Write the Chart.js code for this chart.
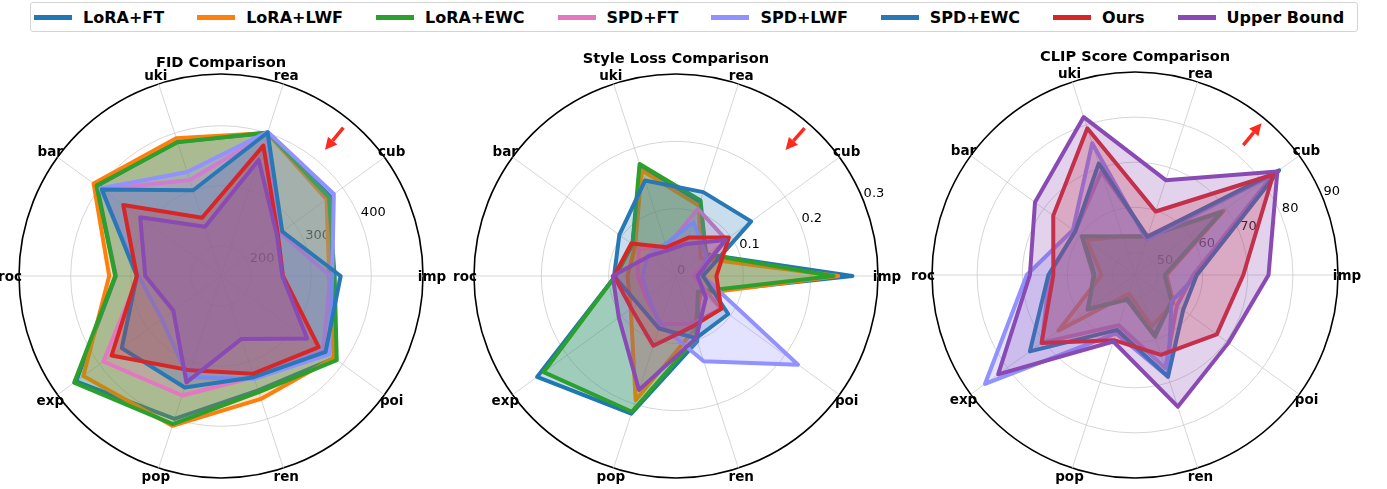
<!DOCTYPE html>
<html>
<head>
<meta charset="utf-8">
<script src="https://cdn.jsdelivr.net/npm/chart.js"></script>
<title>FID / Style Loss / CLIP radar</title>
<style>
  * { font-family: "DejaVu Sans", sans-serif; box-sizing: border-box; }
  body { margin: 0; width: 1387px; height: 489px; overflow: hidden; background: #fff; position: relative; }
  canvas { position: absolute; top: 0; }
  #legend {
    position: absolute; left: 30px; top: 2px; width: 1328px; height: 30px;
    border: 1px solid #d4d4d4; border-radius: 3px; background: #fff;
    display: flex; align-items: center; padding-left: 3px; gap: 33px; z-index: 2;
  }
  .item { display: flex; align-items: center; white-space: nowrap; }
  .handle { width: 38px; height: 5px; margin-right: 11px; }
  .txt { font-weight: bold; font-size: 16px; color: #000; }
</style>
</head>
<body>
<div id="legend"></div>
<canvas id="fid" width="456" height="489" style="left:-7px"></canvas>
<canvas id="style" width="456" height="489" style="left:448px"></canvas>
<canvas id="clip" width="456" height="489" style="left:907px"></canvas>
<script>
  // categories in the order they go round (counter-clockwise from the right)
  const categories = ['imp', 'cub', 'rea', 'uki', 'bar', 'roc', 'exp', 'pop', 'ren', 'poi'];
  const methods = ['LoRA+FT', 'LoRA+LWF', 'LoRA+EWC', 'SPD+FT', 'SPD+LWF', 'SPD+EWC', 'Ours', 'Upper Bound'];
  const colors = ['#1f77b4', '#ff7f0e', '#2ca02c', '#e377c2', '#9191ff', '#2878b5', '#d62728', '#8a4ab3'];

  // one row per method, same order as categories
  const fidScores = [
    [336, 375, 400, 385, 405, 325, 448, 400, 350, 383],
    [330, 367, 400, 391, 412, 336, 433, 412, 365, 382],
    [339, 372, 401, 384, 406, 326, 452, 409, 353, 388],
    [332, 272, 398, 318, 395, 287, 392, 359, 327, 360],
    [335, 382, 402, 332, 398, 287, 272, 327, 330, 372],
    [349, 276, 401, 300, 395, 290, 354, 345, 327, 365],
    [253, 267, 378, 252, 351, 290, 375, 315, 321, 351],
    [252, 265, 353, 236, 316, 276, 248, 336, 260, 327]
  ];
  const styleLoss = [
    [0.262, 0.055, 0.115, 0.168, 0.080, 0.090, 0.255, 0.215, 0.102, 0.042],
    [0.241, 0.045, 0.110, 0.165, 0.075, 0.072, 0.083, 0.194, 0.085, 0.045],
    [0.234, 0.055, 0.118, 0.175, 0.080, 0.090, 0.243, 0.212, 0.097, 0.040],
    [0.026, 0.092, 0.105, 0.045, 0.068, 0.057, 0.055, 0.075, 0.075, 0.083],
    [0.040, 0.055, 0.084, 0.050, 0.052, 0.050, 0.051, 0.076, 0.133, 0.224],
    [0.040, 0.138, 0.131, 0.149, 0.104, 0.092, 0.070, 0.082, 0.097, 0.096],
    [0.060, 0.097, 0.060, 0.045, 0.082, 0.092, 0.082, 0.109, 0.079, 0.083],
    [0.032, 0.091, 0.050, 0.040, 0.050, 0.094, 0.105, 0.178, 0.097, 0.055]
  ];
  const clipScores = [
    [51.6, 68.8, 54.0, 54.0, 59.0, 54.0, 58.0, 50.5, 59.0, 55.0],
    [52.0, 69.3, 54.0, 54.0, 58.2, 52.4, 66.0, 49.3, 57.0, 55.5],
    [51.6, 68.7, 54.0, 54.0, 59.6, 54.2, 57.8, 50.8, 59.4, 55.0],
    [57.9, 82.8, 54.0, 69.1, 61.4, 64.0, 70.5, 56.7, 66.7, 56.5],
    [58.7, 83.0, 53.3, 75.7, 62.0, 69.0, 86.1, 58.6, 68.7, 55.0],
    [58.7, 84.5, 53.9, 71.0, 61.4, 64.2, 73.8, 57.8, 68.7, 58.2],
    [69.0, 82.9, 59.8, 79.2, 67.4, 63.1, 70.6, 60.2, 63.6, 67.4],
    [74.6, 84.0, 67.1, 81.8, 72.4, 68.3, 82.5, 60.5, 75.7, 70.6]
  ];

  const fidTicks = [200, 300, 400];
  const styleTicks = [0, 0.1, 0.2, 0.3];
  const clipTicks = [50, 60, 70, 80, 90];

  // red arrows: [angle in degrees, tail value, head value]
  const fidArrow = [50.5, 470, 422];
  const styleArrow = [49, 0.291, 0.248];
  const clipArrow = [50.2, 82.5, 88.8];

  // legend
  const legend = document.getElementById('legend');
  methods.forEach((m, i) => {
    const it = document.createElement('div');
    it.className = 'item';
    it.innerHTML = '<span class="handle" style="background:' + colors[i] + '"></span><span class="txt">' + m + '</span>';
    legend.appendChild(it);
  });

  // chart.js goes clockwise, the reference goes counter-clockwise
  function cw(a) { return [a[0]].concat(a.slice(1).reverse()); }

  const polarDecor = {
    id: 'polarDecor',
    beforeDatasetsDraw(chart, args, opts) {
      const s = chart.scales.r, ctx = chart.ctx;
      const a = 22.5 * Math.PI / 180;
      ctx.save();
      ctx.font = '13px "DejaVu Sans"';
      ctx.fillStyle = '#000';
      ctx.textAlign = 'left';
      ctx.textBaseline = 'bottom';
      opts.ticks.forEach(v => {
        const d = s.getDistanceFromCenterForValue(v);
        ctx.fillText(String(v), s.xCenter + d * Math.cos(a) + 1, s.yCenter - d * Math.sin(a) + 1);
      });
      ctx.restore();
    },
    afterDraw(chart, args, opts) {
      const s = chart.scales.r, ctx = chart.ctx;
      ctx.save();
      ctx.font = 'bold 13.5px "DejaVu Sans"';
      ctx.fillStyle = '#000';
      ctx.textAlign = 'center';
      ctx.textBaseline = 'middle';
      chart.data.labels.forEach((lab, i) => {
        const p = s.getPointPosition(i, s.drawingArea + 9);
        ctx.fillText(lab, p.x, p.y + 1);
      });

      // arrow
      const arr = opts.arrow;
      const a = arr[0] * Math.PI / 180;
      const pos = v => {
        const d = s.getDistanceFromCenterForValue(v);
        return [s.xCenter + d * Math.cos(a), s.yCenter - d * Math.sin(a)];
      };
      const [x1, y1] = pos(arr[1]);
      const [x2, y2] = pos(arr[2]);
      const ang = Math.atan2(y2 - y1, x2 - x1);
      const hl = 12, hw = 6;
      const bx = x2 - hl * Math.cos(ang), by = y2 - hl * Math.sin(ang);
      ctx.strokeStyle = '#ff2a1f';
      ctx.fillStyle = '#ff2a1f';
      ctx.lineWidth = 3.5;
      ctx.beginPath(); ctx.moveTo(x1, y1); ctx.lineTo(bx, by); ctx.stroke();
      ctx.beginPath();
      ctx.moveTo(x2, y2);
      ctx.lineTo(bx + hw * Math.sin(ang), by - hw * Math.cos(ang));
      ctx.lineTo(bx - hw * Math.sin(ang), by + hw * Math.cos(ang));
      ctx.closePath();
      ctx.fill();
      ctx.restore();
    }
  };

  function radar(id, title, rows, min, max, tickVals, arrow, layoutPad, titlePad) {
    const inner = tickVals.filter(v => v > min && v < max);
    return new Chart(document.getElementById(id), {
      type: 'radar',
      data: {
        labels: cw(categories),
        datasets: rows.map((row, i) => ({
          label: methods[i],
          data: cw(row),
          borderColor: colors[i],
          backgroundColor: colors[i] + '40',
          borderWidth: 4,
          fill: true,
          order: methods.length - 1 - i
        }))
      },
      options: {
        responsive: false,
        animation: false,
        events: [],
        layout: { padding: layoutPad },
        elements: {
          point: { radius: 0 },
          line: { tension: 0, borderJoinStyle: 'round' }
        },
        plugins: {
          legend: { display: false },
          tooltip: { enabled: false },
          title: {
            display: true,
            text: title,
            color: '#000',
            font: { family: 'DejaVu Sans', size: 14.6, weight: 'bold', lineHeight: 1.2 },
            padding: titlePad
          },
          polarDecor: { ticks: tickVals, arrow: arrow }
        },
        scales: {
          r: {
            min: min,
            max: max,
            startAngle: 90,
            ticks: { display: false },
            pointLabels: { display: false },
            grid: {
              circular: true,
              color: c => c.tick.value === max ? '#000' : '#cccccc',
              lineWidth: c => c.tick.value === max ? 1.6 : 0.8
            },
            angleLines: { color: '#cccccc', lineWidth: 0.8 },
            afterBuildTicks: s => {
              s.ticks = [min].concat(inner, [max]).map(v => ({ value: v }));
            }
          }
        }
      },
      plugins: [polarDecor]
    });
  }

  radar('fid', 'FID Comparison', fidScores, 150, 486, fidTicks, fidArrow,
    { left: 26, right: 26, top: 0, bottom: 10 }, { top: 54.2, bottom: 2.3 });
  radar('style', 'Style Loss Comparison', styleLoss, 0, 0.3, styleTicks, styleArrow,
    { left: 26, right: 26, top: 0, bottom: 10 }, { top: 50.8, bottom: 5.7 });
  radar('clip', 'CLIP Score Comparison', clipScores, 45, 90, clipTicks, clipArrow,
    { left: 25, right: 25, top: 0, bottom: 10 }, { top: 48.5, bottom: 6 });
</script>
</body>
</html>
